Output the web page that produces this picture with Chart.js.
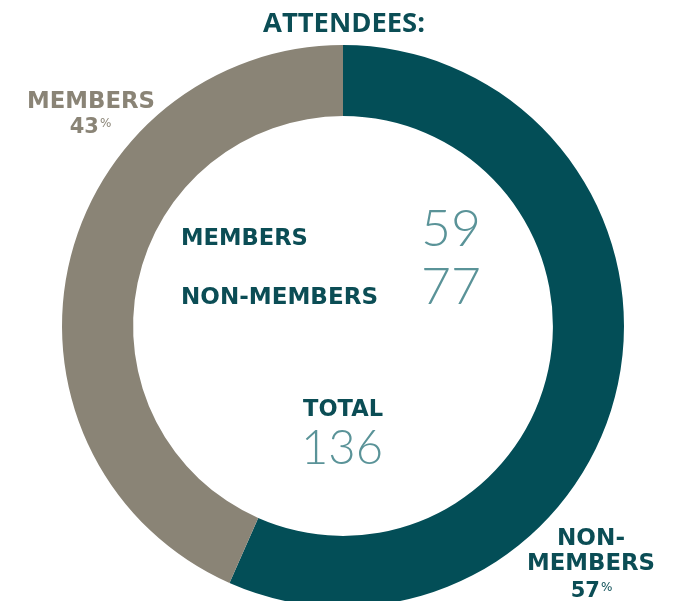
<!DOCTYPE html>
<html>
<head>
<meta charset="utf-8">
<script src="https://cdn.jsdelivr.net/npm/chart.js@4"></script>
<style>
    html, body { margin: 0; padding: 0; background: #fff; }
    #frame { width: 690px; height: 601px; overflow: hidden; position: relative; }
</style>
</head>
<body>
<div id="frame">
    <canvas id="attendeesChart" width="690" height="620"></canvas>
</div>
<script>
// Données du graphique
const segmentLabels = ['NON-MEMBERS', 'MEMBERS'];
const attendeeCounts = [77, 59];
const segmentColors = ['#034e57', '#8a8476'];

const darkTeal = '#0b4d55';
const lightTeal = '#5a9398';
const labelFont = '"DejaVu Sans", sans-serif';
const titleFont = '"Open Sans", sans-serif';
const numberFont = 'Lato, sans-serif';

// Textes posés par-dessus l'anneau
const textPlugin = {
    id: 'attendeeTexts',
    afterDraw(chart) {
        const ctx = chart.ctx;
        const total = attendeeCounts.reduce((a, b) => a + b, 0);
        const pct = attendeeCounts.map(v => Math.round(v / total * 100));

        // texte dont la taille est ajustée à une largeur donnée
        function fitText(str, x, y, width, weight, family, color, align) {
            ctx.font = weight + ' 100px ' + family;
            const size = 100 * width / ctx.measureText(str).width;
            ctx.font = weight + ' ' + size.toFixed(2) + 'px ' + family;
            ctx.fillStyle = color;
            ctx.textAlign = align || 'center';
            ctx.textBaseline = 'alphabetic';
            ctx.fillText(str, x, y);
        }

        // pourcentage avec petit signe % en exposant
        function percent(value, x, y, size, color) {
            const big = 'bold ' + size + 'px ' + labelFont;
            const small = '12px ' + labelFont;
            ctx.font = big;
            const w1 = ctx.measureText(String(value)).width;
            ctx.font = small;
            const w2 = ctx.measureText('%').width;
            const left = x - (w1 + w2) / 2;
            ctx.fillStyle = color;
            ctx.textAlign = 'left';
            ctx.textBaseline = 'alphabetic';
            ctx.font = big;
            ctx.fillText(String(value), left, y);
            ctx.font = small;
            ctx.fillText('%', left + w1 + 1, y - 6);
        }

        ctx.save();
        fitText('ATTENDEES:', 344, 32, 162, 'bold', titleFont, darkTeal);

        fitText(segmentLabels[1], 91, 108, 128, 'bold', labelFont, segmentColors[1]);
        percent(pct[1], 90, 133, 21, segmentColors[1]);

        fitText(segmentLabels[1], 181, 245, 127, 'bold', labelFont, darkTeal, 'left');
        fitText(segmentLabels[0], 181, 304, 197, 'bold', labelFont, darkTeal, 'left');
        fitText(String(attendeeCounts[1]), 421, 246, 60, '300', numberFont, lightTeal, 'left');
        fitText(String(attendeeCounts[0]), 421, 304, 60, '300', numberFont, lightTeal, 'left');

        fitText('TOTAL', 343, 416, 80, 'bold', labelFont, darkTeal);
        fitText(String(total), 342, 464, 82, '300', numberFont, lightTeal);

        fitText('NON-', 591, 545, 68, 'bold', labelFont, darkTeal);
        fitText('MEMBERS', 591, 570, 128, 'bold', labelFont, darkTeal);
        percent(pct[0], 591, 597, 21, darkTeal);
        ctx.restore();
    }
};

new Chart(document.getElementById('attendeesChart').getContext('2d'), {
    type: 'doughnut',
    data: {
        labels: segmentLabels,
        datasets: [{
            data: attendeeCounts,
            backgroundColor: segmentColors,
            borderWidth: 0,
            hoverOffset: 0
        }]
    },
    options: {
        responsive: false,
        animation: false,
        cutout: '74.7%',
        layout: {
            padding: { left: 62, right: 66, top: 45, bottom: 13 }
        },
        plugins: {
            legend: { display: false },
            tooltip: { enabled: false }
        }
    },
    plugins: [textPlugin]
});
</script>
</body>
</html>
